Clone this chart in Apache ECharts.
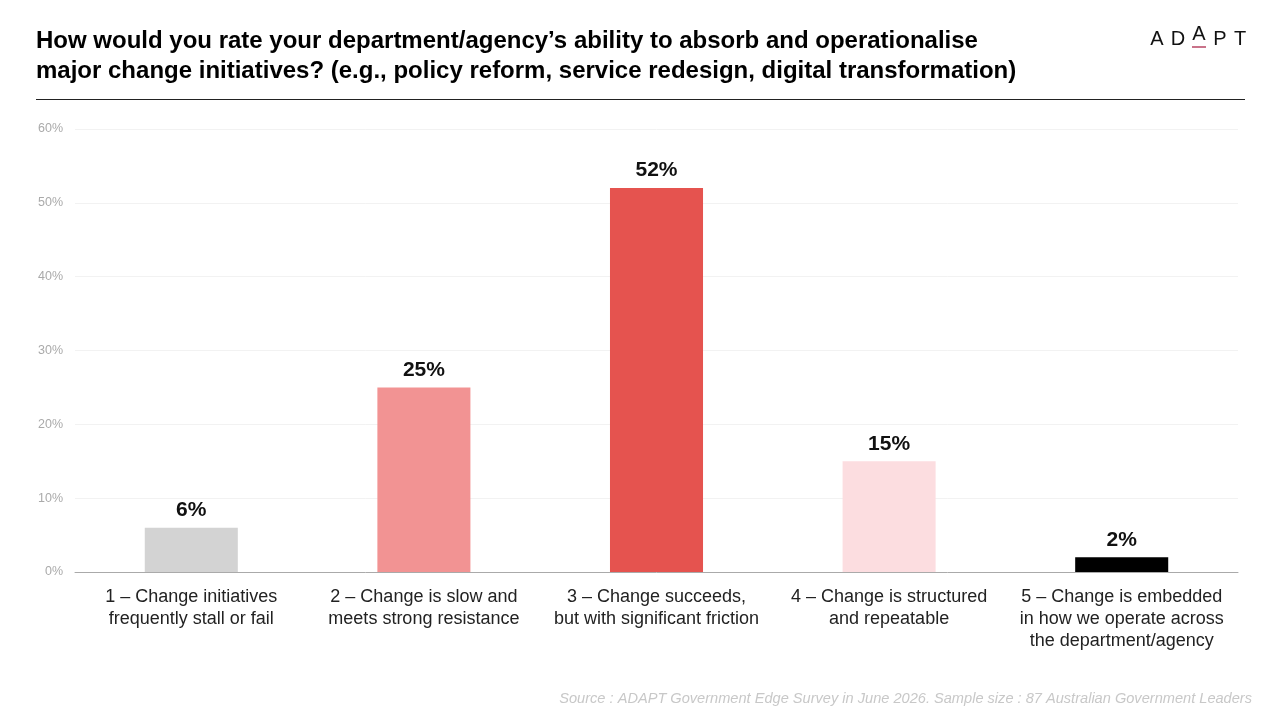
<!DOCTYPE html>
<html>
<head>
<meta charset="utf-8">
<style>html,body{margin:0;padding:0;background:#fff;}#c{width:1280px;height:720px;}</style>
<script src="https://cdn.jsdelivr.net/npm/echarts@6/dist/echarts.min.js"></script>
</head>
<body>
<div id="c"></div>
<script>
const categories = [
  "1 – Change initiatives\nfrequently stall or fail",
  "2 – Change is slow and\nmeets strong resistance",
  "3 – Change succeeds,\nbut with significant friction",
  "4 – Change is structured\nand repeatable",
  "5 – Change is embedded\nin how we operate across\nthe department/agency"
];
const values = [6, 25, 52, 15, 2];
const barColors = ["#d3d3d3", "#f29393", "#e5534f", "#fcdde0", "#000000"];
const yTicks = { min: 0, max: 60, interval: 10 };
const titleLines = [
  "How would you rate your department/agency’s ability to absorb and operationalise",
  "major change initiatives? (e.g., policy reform, service redesign, digital transformation)"
];
const sourceText = "Source : ADAPT Government Edge Survey in June 2026. Sample size : 87 Australian Government Leaders";
const logoLetters = ["A", "D", "A", "P", "T"];

const font = "'Liberation Sans', Arial, sans-serif";
const chart = echarts.init(document.getElementById('c'));

const logoX = [1157, 1178, 1199, 1220, 1240];
const logoY = [39, 39, 34, 39, 39];
const graphics = [
  { type: 'text', left: 36, top: 29, style: { text: titleLines[0], font: "bold 24px " + font, fill: '#000' } },
  { type: 'text', left: 36, top: 59, style: { text: titleLines[1], font: "bold 24px " + font, fill: '#000' } },
  { type: 'rect', shape: { x: 36, y: 99, width: 1209, height: 1 }, style: { fill: '#222' } },
  { type: 'rect', shape: { x: 1192, y: 46, width: 14, height: 2 }, style: { fill: '#c9738a' } },
  { type: 'text', right: 28, top: 691, style: { text: sourceText, font: "italic 14.6px " + font, fill: '#c8c8c8', textAlign: 'left' } }
];
logoLetters.forEach((l, i) => {
  graphics.push({ type: 'text', x: logoX[i], y: logoY[i], style: { text: l, font: "20px " + font, fill: '#111', textAlign: 'center', textVerticalAlign: 'middle' } });
});

chart.setOption({
  animation: false,
  backgroundColor: '#fff',
  grid: { left: 75, right: 42, top: 129, bottom: 148, containLabel: false },
  xAxis: {
    type: 'category',
    data: categories,
    axisLine: { lineStyle: { color: '#aaaaaa', width: 1 } },
    axisTick: { show: false },
    axisLabel: { color: '#222', fontFamily: font, fontSize: 18, lineHeight: 22, margin: 14, interval: 0 }
  },
  yAxis: {
    type: 'value',
    min: yTicks.min, max: yTicks.max, interval: yTicks.interval,
    axisLine: { show: false },
    axisTick: { show: false },
    splitLine: { lineStyle: { color: '#f2f2f2' } },
    axisLabel: { color: '#aaaaaa', fontFamily: font, fontSize: 12.5, margin: 12, formatter: v => v + '%' }
  },
  series: [{
    type: 'bar',
    data: values.map((v, i) => ({ value: v, itemStyle: { color: barColors[i] } })),
    barWidth: '40%',
    label: { show: true, position: 'top', distance: 7, formatter: p => p.value + '%', color: '#111', fontFamily: font, fontSize: 21, fontWeight: 'bold' }
  }],
  graphic: graphics
});
</script>
</body>
</html>
